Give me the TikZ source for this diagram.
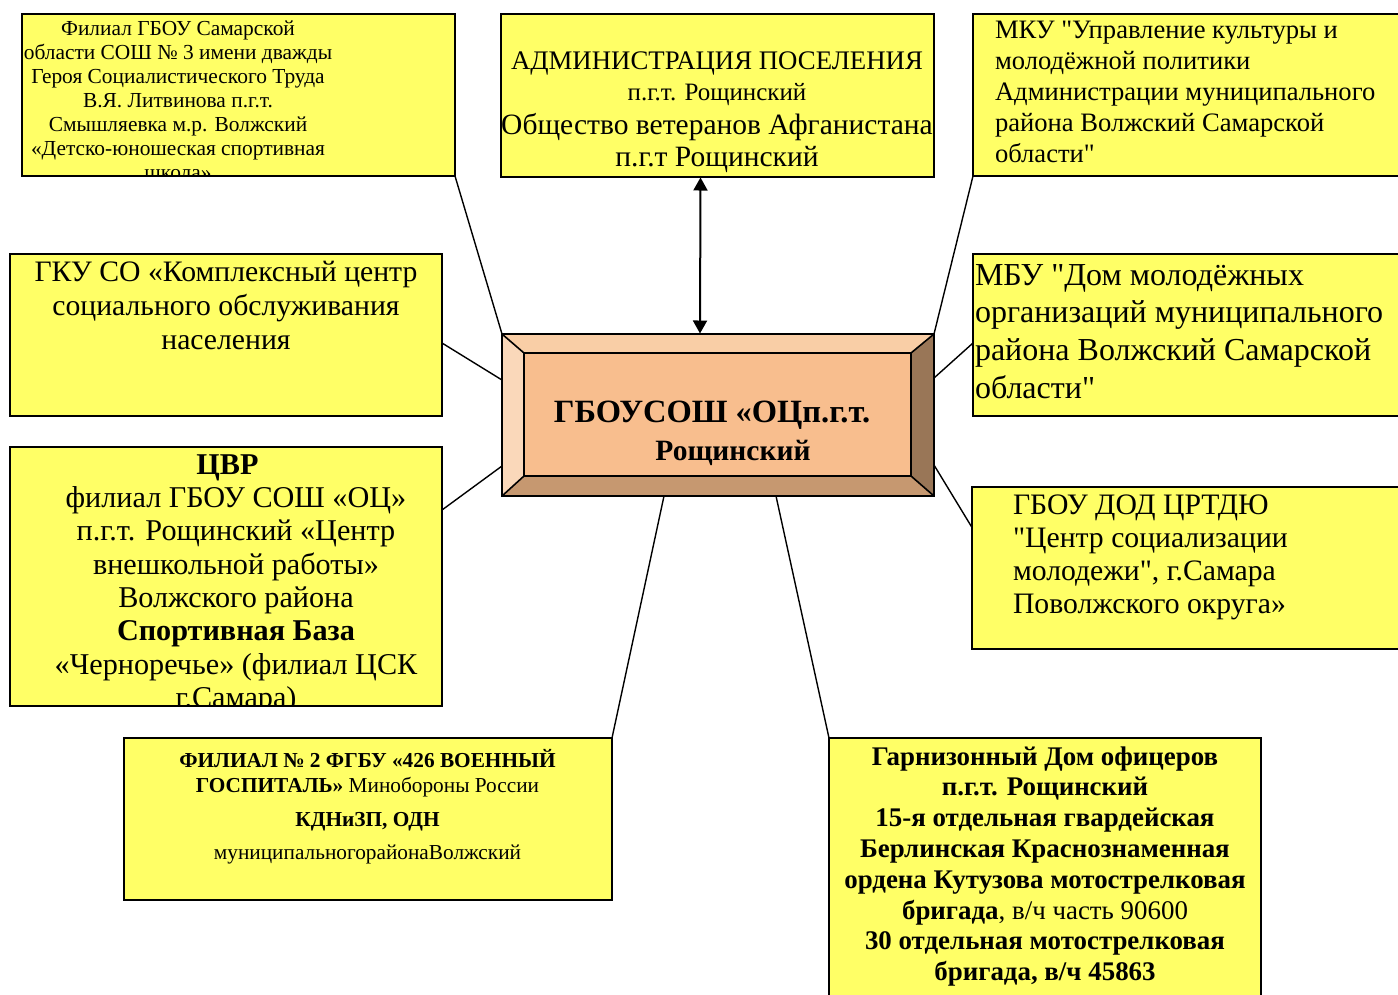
\documentclass[tikz,border=0pt]{standalone}
\usepackage{fontspec}
\setmainfont{Liberation Serif}[Ligatures=TeXOff]
\usetikzlibrary{arrows.meta,calc}
\definecolor{boxyellow}{RGB}{255,255,102}
\definecolor{bevface}{RGB}{248,190,142}
\definecolor{bevtop}{RGB}{249,206,166}
\definecolor{bevleft}{RGB}{250,216,186}
\definecolor{bevright}{RGB}{153,118,87}
\definecolor{bevbottom}{RGB}{198,152,112}
\newcommand\topst{\rule{0pt}{1em}}
\begin{document}
\begin{tikzpicture}[x=1pt,y=-1pt,
  box/.style={draw=black,line width=1.6pt,fill=boxyellow,anchor=north west,inner sep=0pt,outer sep=0pt},
  conn/.style={black,line width=1.4pt},
  bevline/.style={black,line width=1.6pt,line join=miter},
  lbl/.style={inner sep=0pt,outer sep=0pt,align=center,anchor=north},
  lbll/.style={inner sep=0pt,outer sep=0pt,align=left,anchor=north west}
]
\useasboundingbox (0,0) rectangle (1398,994);

% boxes
\node[box,minimum width=433pt,minimum height=162pt] (tl) at (22,14) {};
\node[box,minimum width=433pt,minimum height=163pt] (tm) at (501,14) {};
\node[box,minimum width=450pt,minimum height=162pt] (tr) at (973,14) {};
\node[box,minimum width=432pt,minimum height=162pt] (ml) at (10,254) {};
\node[box,minimum width=432pt,minimum height=259pt] (ll) at (10,447) {};
\node[box,minimum width=450pt,minimum height=162pt] (mr) at (973,254) {};
\node[box,minimum width=450pt,minimum height=162pt] (lr) at (972,487) {};
\node[box,minimum width=488pt,minimum height=162pt] (bl) at (124,738) {};
\node[box,minimum width=432pt,minimum height=280pt] (br) at (829,738) {};

% central bevelled box
\node[anchor=north west,inner sep=0pt,outer sep=0pt,minimum width=432pt,minimum height=162pt] (c) at (502,334) {};
\coordinate (ci1) at ($(c.north west)+(22,19)$);
\coordinate (ci2) at ($(c.north east)+(-23,19)$);
\coordinate (ci3) at ($(c.south east)+(-23,-20)$);
\coordinate (ci4) at ($(c.south west)+(22,-20)$);
\fill[bevtop] (c.north west) -- (c.north east) -- (ci2) -- (ci1) -- cycle;
\fill[bevleft] (c.north west) -- (ci1) -- (ci4) -- (c.south west) -- cycle;
\fill[bevright] (c.north east) -- (c.south east) -- (ci3) -- (ci2) -- cycle;
\fill[bevbottom] (c.south west) -- (c.south east) -- (ci3) -- (ci4) -- cycle;
\fill[bevface] (ci1) rectangle (ci3);
\draw[bevline] (c.north west) rectangle (c.south east);
\draw[bevline] (ci1) rectangle (ci3);
\draw[bevline] (c.north west) -- (ci1) (c.north east) -- (ci2) (c.south east) -- (ci3) (c.south west) -- (ci4);
\node[lbl,font=\bfseries\fontsize{32.5}{38}\selectfont] (ctext) at (712,389.5) {\topst ГБОУСОШ «ОЦп.г.т.\\{\fontsize{29.5}{38}\selectfont\hspace*{42pt}Рощинский}};

% texts
\begin{scope}
\clip ($(tl.south west)+(1,-1)$) rectangle ($(tl.north east)+(-1,1)$);
\node[lbl,font=\fontsize{21.4}{24}\selectfont] (tltext) at (178,13.6) {\topst Филиал ГБОУ Самарской\\области СОШ № 3 имени дважды\\Героя Социалистического Труда\\В.Я. Литвинова п.г.т.\\Смышляевка м.р. Волжский\\«Детско-юношеская спортивная\\школа»};
\end{scope}

\node[lbl,font=\fontsize{29.5}{32}\selectfont] (tmtext) at (717,42.2) {{\fontsize{26.8}{32}\selectfont\topst АДМИНИСТРАЦИЯ ПОСЕЛЕНИЯ}\\[-1pt]{\fontsize{25}{32}\selectfont п.г.т. Рощинский}\\[2pt]Общество ветеранов Афганистана\\п.г.т Рощинский};

\node[lbll,font=\fontsize{26.6}{31}\selectfont] (trtext) at (995,11.9) {\topst МКУ "Управление культуры и\\молодёжной политики\\Администрации муниципального\\района Волжский Самарской\\области"};

\node[lbl,font=\fontsize{29.7}{34}\selectfont] (mltext) at (226,252) {\topst ГКУ СО «Комплексный центр\\социального обслуживания\\населения};

\begin{scope}
\clip ($(ll.south west)+(1,-1)$) rectangle ($(ll.north east)+(-1,1)$);
\node[lbl,font=\fontsize{30.2}{33.3}\selectfont] (lltext) at (236,444.1) {{\bfseries\topst ЦВР}\hspace*{17pt}\\филиал ГБОУ СОШ «ОЦ»\\п.г.т. Рощинский «Центр\\внешкольной работы»\\Волжского района\\{\bfseries Спортивная База}\\«Черноречье» (филиал ЦСК\\г.Самара)};
\end{scope}

\node[lbll,font=\fontsize{32}{37.7}\selectfont] (mrtext) at (975,253) {\topst МБУ "Дом молодёжных\\организаций муниципального\\района Волжский Самарской\\области"};

\node[lbll,font=\fontsize{29.7}{33}\selectfont] (lrtext) at (1013,484.3) {\topst ГБОУ ДОД ЦРТДЮ\\"Центр социализации\\молодежи", г.Самара\\Поволжского округа»};

\node[lbl,font=\fontsize{21.3}{25}\selectfont] (bltext) at (367.5,746) {{\bfseries\topst ФИЛИАЛ № 2 ФГБУ «426 ВОЕННЫЙ}\\{\bfseries ГОСПИТАЛЬ»} Минобороны России\\[9pt]{\bfseries КДНиЗП, ОДН}\\[8pt]муниципальногорайонаВолжский};

\node[lbl,font=\bfseries\fontsize{26.9}{30.8}\selectfont] (brtext) at (1045,738.1) {\topst Гарнизонный Дом офицеров\\п.г.т. Рощинский\\15-я отдельная гвардейская\\Берлинская Краснознаменная\\ордена Кутузова мотострелковая\\бригада{\mdseries, в/ч часть 90600}\\30 отдельная мотострелковая\\бригада, в/ч 45863};

% connectors
\draw[conn] (tl.south east) -- (c.north west);
\draw[conn] (tr.south west) -- (c.north east);
\draw[conn] ($(ml.east)+(0,8)$) -- ($(c.west)+(0,-35)$);
\draw[conn] ($(ll.east)+(0,-66.5)$) -- ($(c.west)+(0,51)$);
\draw[conn] ($(mr.west)+(0,8)$) -- ($(c.east)+(0,-37)$);
\draw[conn] ($(c.east)+(0,50)$) -- ($(lr.west)+(0,-40.5)$);
\draw[conn] ($(c.south)+(-54,0)$) -- (bl.north east);
\draw[conn] ($(c.south)+(58,0)$) -- (br.north west);
\draw[conn,line width=2pt,{Triangle[width=14pt,length=13pt]}-{Triangle[width=14pt,length=13pt]}] ($(tm.south)+(-17,0.5)$) -- ($(c.north)+(-18,-0.5)$);
\end{tikzpicture}
\end{document}
